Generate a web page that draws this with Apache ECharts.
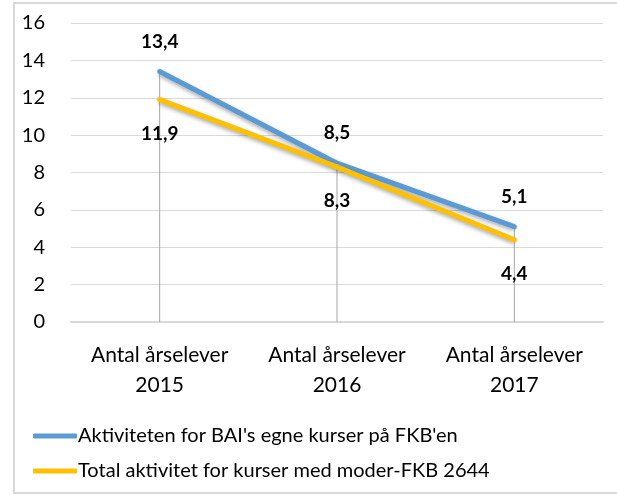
<!DOCTYPE html>
<html>
<head>
<meta charset="utf-8">
<script src="https://cdn.jsdelivr.net/npm/echarts@6/dist/echarts.min.js"></script>
<style>
    html, body { margin: 0; padding: 0; background: #fff; }
    #chart { width: 617px; height: 495px; }
</style>
</head>
<body>
<div id="chart"></div>
<script>
    let categories = ['Antal årselever\n2015', 'Antal årselever\n2016', 'Antal årselever\n2017'];
    let baiValues = [13.4, 8.5, 5.1];
    let totalValues = [11.9, 8.3, 4.4];
    let seriesNames = ["Aktiviteten for BAI's egne kurser på FKB'en", 'Total aktivitet for kurser med moder-FKB 2644'];
    let yTicks = [0, 2, 4, 6, 8, 10, 12, 14, 16];

    // drop lines reach the higher of the two series
    let dropValues = baiValues.map(function (v, i) {
        return Math.max(v, totalValues[i]);
    });

    let font = 'Lato, "Open Sans", sans-serif';

    function fmt(v) {
        return String(v.value !== undefined ? v.value : v).replace('.', ',');
    }

    let chart = echarts.init(document.getElementById('chart'));
    let option = {
        backgroundColor: '#fff',
        animation: false,
        textStyle: { fontFamily: font },
        graphic: [{
            type: 'rect',
            shape: { x: 14, y: 3, width: 612, height: 490 },
            style: { fill: null, stroke: '#d9d9d9', lineWidth: 2 },
            silent: true
        }],
        grid: { left: 71, right: 14, top: 23, bottom: 173 },
        legend: {
            orient: 'vertical',
            left: 28,
            top: 421,
            itemWidth: 44,
            itemHeight: 5,
            itemGap: 15,
            icon: 'roundRect',
            data: seriesNames,
            textStyle: { fontFamily: font, fontSize: 20, color: '#000', padding: [0, 0, 0, -4] }
        },
        xAxis: {
            type: 'category',
            data: categories,
            axisLine: { lineStyle: { color: '#d9d9d9', width: 2 } },
            axisTick: { show: false },
            axisLabel: {
                color: '#000', fontSize: 21, lineHeight: 30, margin: 18, fontFamily: font,
                interval: 0, hideOverlap: false
            }
        },
        yAxis: {
            type: 'value',
            min: yTicks[0],
            max: yTicks[yTicks.length - 1],
            interval: 2,
            axisLine: { show: false },
            axisTick: { show: false },
            splitLine: { lineStyle: { color: '#d9d9d9', width: 1 } },
            axisLabel: { color: '#000', fontSize: 20, margin: 26, fontFamily: font }
        },
        series: [
            {
                type: 'bar',
                data: dropValues,
                barWidth: 1,
                silent: true,
                itemStyle: { color: '#a6a6a6' },
                z: 1
            },
            {
                name: seriesNames[0],
                type: 'line',
                data: baiValues,
                symbol: 'circle',
                symbolSize: 5,
                itemStyle: { color: '#5b9bd5' },
                lineStyle: { color: '#5b9bd5', width: 5, shadowColor: 'rgba(0,0,0,0.35)', shadowBlur: 4, shadowOffsetY: 2 },
                label: {
                    show: true, position: 'top', distance: 18, formatter: fmt,
                    color: '#000', fontWeight: 'bold', fontSize: 19, fontFamily: font
                },
                z: 3
            },
            {
                name: seriesNames[1],
                type: 'line',
                data: totalValues,
                symbol: 'circle',
                symbolSize: 5,
                itemStyle: { color: '#ffc000' },
                lineStyle: { color: '#ffc000', width: 5, shadowColor: 'rgba(0,0,0,0.35)', shadowBlur: 4, shadowOffsetY: 2 },
                label: {
                    show: true, position: 'bottom', distance: 22, formatter: fmt,
                    color: '#000', fontWeight: 'bold', fontSize: 19, fontFamily: font
                },
                z: 4
            }
        ]
    };
    chart.setOption(option);
</script>
</body>
</html>
